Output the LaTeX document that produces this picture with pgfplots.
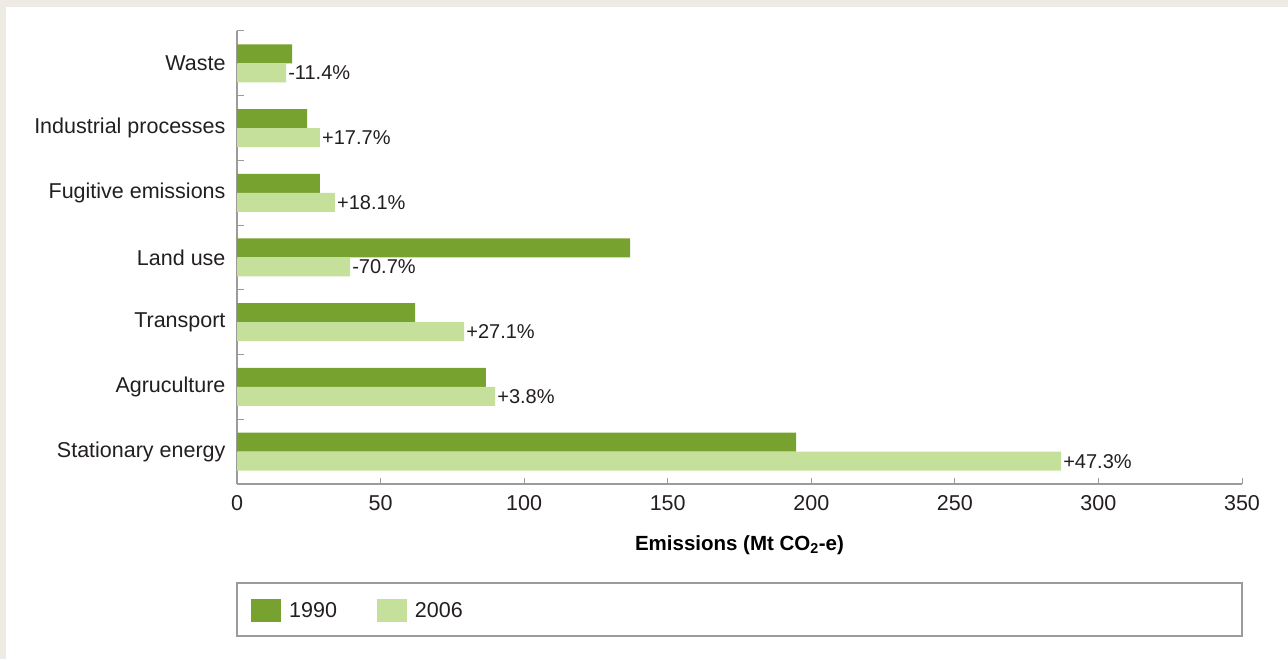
\documentclass[border=0pt]{standalone}
\usepackage{fontspec}
\setmainfont{Liberation Sans}
\usepackage{pgfplots}
\pgfplotsset{compat=1.18}
\definecolor{bgbeige}{HTML}{EEEBE4}
\definecolor{dgreen}{HTML}{78A22F}
\definecolor{lgreen}{HTML}{C5E09B}
\definecolor{axisgray}{HTML}{9B9B9B}
\definecolor{txt}{HTML}{231F20}
\begin{document}
\begin{tikzpicture}[x=1pt,y=1pt]
\fill[bgbeige] (0,0) rectangle (1288,659);
\fill[white] (6,0) rectangle (1288,652);
\begin{axis}[
  at={(237pt,175pt)}, anchor=south west,
  scale only axis, width=1005pt, height=453pt,
  xbar, xmin=0, xmax=350, ymin=-0.5, ymax=6.5,
  axis lines*=left,
  axis line style={draw=axisgray, line width=1.2pt},
  tick align=inside,
  major tick length=6.5pt,
  tick style={draw=axisgray, line width=1pt},
  xtick={0,50,...,350},
  ytick={-0.5,0.5,...,6.5},
  yticklabels={},
  extra y ticks={0,1,2,3,4,5,6},
  extra y tick labels={Stationary energy, Agruculture, Transport, Land use, Fugitive emissions, Industrial processes, Waste},
  extra y tick style={tick style={draw=none}},
  /pgf/number format/assume math mode=true,
  tick label style={font=\fontsize{21.5}{25}\selectfont, text=txt},
  yticklabel style={xshift=-8pt},
  xticklabel style={yshift=-8pt},
  xlabel={\bfseries Emissions (Mt CO\textsubscript{2}-e)},
  xlabel style={font=\fontsize{20.5}{24}\selectfont, text=black, yshift=-18pt},
  legend style={draw=none, fill=none, at={(0.0139,-0.2792)}, anchor=west, inner sep=0pt,
    font=\fontsize{21.5}{25}\selectfont, text=txt,
    /tikz/every even column/.append style={column sep=38pt}},
  legend columns=2,
  legend image code/.code={\fill[#1] (0pt,-11.5pt) rectangle (30pt,11.5pt); \path (36pt,0pt);},
  clip=false,
]
\addplot[fill=dgreen, draw=none, bar width=19pt, bar shift=9.5pt]
  coordinates {(194.7,0) (86.7,1) (62.0,2) (136.9,3) (28.9,4) (24.4,5) (19.2,6)};
\addlegendentry{1990}
\addplot[fill=lgreen, draw=none, bar width=19pt, bar shift=-9.5pt,
  point meta=explicit symbolic, nodes near coords,
  nodes near coords style={anchor=west, inner sep=2pt, font=\fontsize{20}{23}\selectfont, text=txt}]
  coordinates {(287.0,0) [{+47.3\%}] (89.9,1) [{+3.8\%}] (79.1,2) [{+27.1\%}] (39.4,3) [{-70.7\%}] (34.1,4) [{+18.1\%}] (28.9,5) [{+17.7\%}] (17.1,6) [{-11.4\%}]};
\addlegendentry{2006}
\end{axis}
\draw[axisgray, line width=1.2pt] (237,23) rectangle (1242,76);
\end{tikzpicture}
\end{document}
